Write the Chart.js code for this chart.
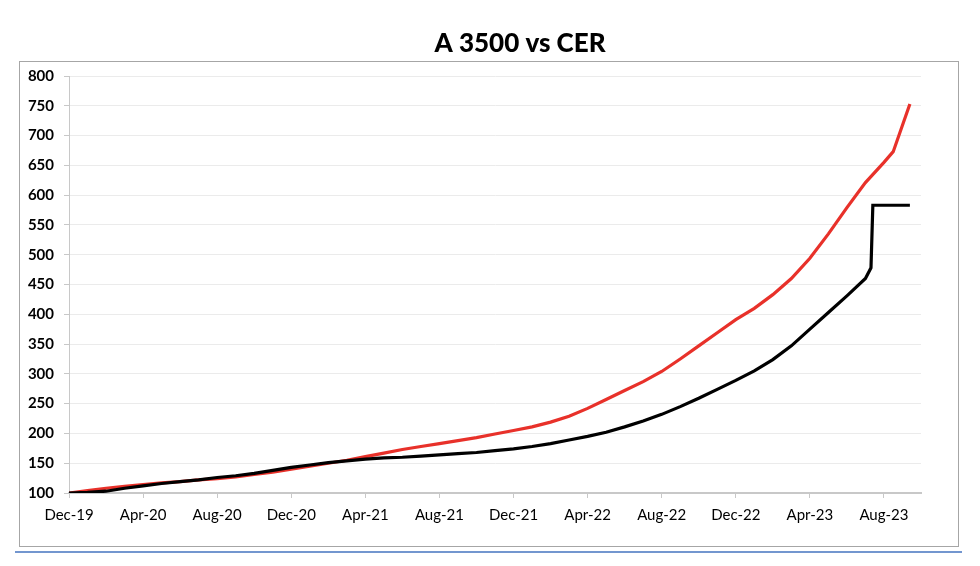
<!DOCTYPE html>
<html>
<head>
<meta charset="utf-8">
<script src="https://cdn.jsdelivr.net/npm/chart.js@4.4.1/dist/chart.umd.min.js"></script>
<style>
  html, body { margin: 0; padding: 0; background: #ffffff; }
  #wrap { position: relative; width: 980px; height: 566px; }
</style>
</head>
<body>
<div id="wrap"><canvas id="c" width="980" height="566"></canvas></div>
<script>
// ---- data (months since Dec-19) ----
const titleText = "A 3500 vs CER";
const tickLabels = ["Dec-19","Apr-20","Aug-20","Dec-20","Apr-21","Aug-21","Dec-21","Apr-22","Aug-22","Dec-22","Apr-23","Aug-23"];

const cerMonths = [0,1,2,3,4,5,6,7,8,9,10,11,12,13,14,15,16,17,18,19,20,21,22,23,24,25,26,27,28,29,30,31,32,33,34,35,36,37,38,39,40,41,42,43,44,44.5,45.4];
const cerValues = [100,104,108,111,114,117,119,122,124,127,131,135,140,145,150,155,161,167,173,178,183,188,193,199,205,211,219,229,242,257,272,287,304,325,347,369,391,410,433,460,494,535,579,621,655,673,753];

const a3500Months = [0,1,2,3,4,5,6,7,8,9,10,11,12,13,14,15,16,17,18,19,20,21,22,23,24,25,26,27,28,29,30,31,32,33,34,35,36,37,38,39,40,41,42,43,43.3,43.4,44,45.4];
const a3500Values = [100,101,103,108,112,116,119,122,126,129,133,138,143,147,151,154,157,159,160,162,164,166,168,171,174,178,183,189,195,202,211,221,232,245,259,274,289,305,324,347,375,403,431,460,478,583,583,583];

const toPts = (xs, ys) => xs.map((x, i) => ({ x: x, y: ys[i] }));

const frame = {
  id: 'frame',
  beforeDraw(chart) {
    const ctx = chart.ctx;
    ctx.save();
    ctx.fillStyle = '#ffffff';
    ctx.fillRect(0, 0, chart.width, chart.height);
    ctx.strokeStyle = '#a6a6a6';
    ctx.lineWidth = 1;
    ctx.strokeRect(19.5, 61.5, 939, 485);
    ctx.fillStyle = '#7396cf';
    ctx.fillRect(15, 551, 947, 2);
    ctx.restore();
  },
  afterDraw(chart) {
    const ctx = chart.ctx;
    ctx.save();
    ctx.fillStyle = '#000000';
    ctx.font = '900 26px Lato, "Open Sans", sans-serif';
    ctx.textAlign = 'center';
    ctx.textBaseline = 'middle';
    ctx.fillText(titleText, 520, 44);
    ctx.restore();
  }
};

new Chart(document.getElementById('c'), {
  type: 'line',
  data: {
    datasets: [
      { label: 'A 3500', data: toPts(a3500Months, a3500Values), borderColor: '#000000', borderWidth: 3.2, pointRadius: 0, tension: 0, order: 1 },
      { label: 'CER', data: toPts(cerMonths, cerValues), borderColor: '#e8312a', borderWidth: 3.2, pointRadius: 0, tension: 0, order: 2 }
    ]
  },
  options: {
    responsive: false,
    animation: false,
    events: [],
    layout: { padding: { left: 0, right: 59, top: 76, bottom: 0 } },
    plugins: { legend: { display: false }, title: { display: false }, tooltip: { enabled: false } },
    scales: {
      x: {
        type: 'linear', min: 0, max: 46,
        afterFit(s) { s.height = 73; },
        afterBuildTicks(s) { s.ticks = tickLabels.map((_, i) => ({ value: i * 4 })); },
        ticks: {
          autoSkip: false, maxRotation: 0, padding: 8,
          color: '#000000', font: { family: 'Lato, "Open Sans", sans-serif', size: 15 },
          callback: (v) => tickLabels[Math.round(v / 4)] || ''
        },
        grid: { drawOnChartArea: false, drawTicks: true, tickLength: 5, color: '#c8c8c8', lineWidth: 1 },
        border: { color: '#c8c8c8', width: 2 }
      },
      y: {
        min: 100, max: 800,
        afterFit(s) { s.width = 69; },
        ticks: {
          stepSize: 50, padding: 10, color: '#000000',
          font: { family: 'Lato, "Open Sans", sans-serif', size: 15, weight: 'bold' }
        },
        grid: { color: '#ebebeb', lineWidth: 1, tickLength: 5, tickColor: '#c8c8c8' },
        border: { color: '#c8c8c8', width: 1 }
      }
    }
  },
  plugins: [frame]
});
</script>
</body>
</html>
